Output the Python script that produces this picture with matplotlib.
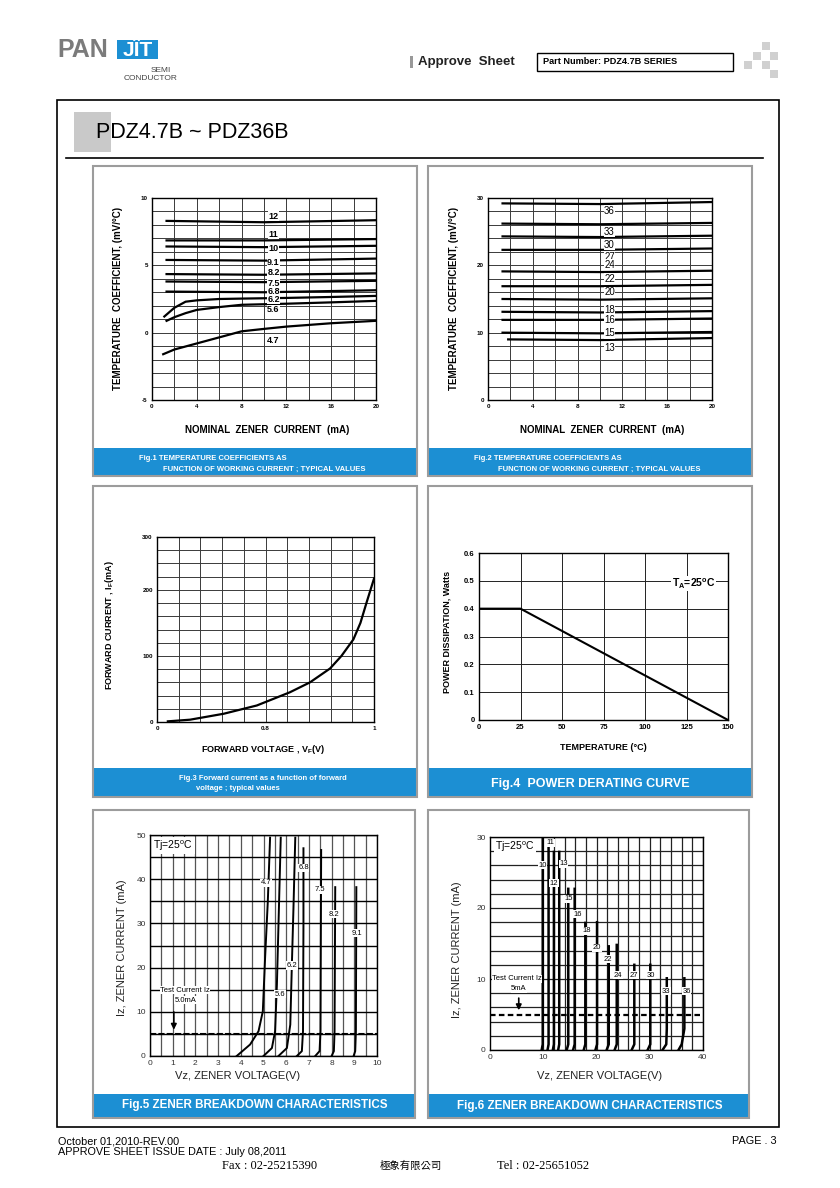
import numpy as np
import matplotlib.pyplot as plt
from matplotlib.patches import Rectangle

plt.rcParams['font.family'] = ['Liberation Sans', 'DejaVu Sans']
plt.rcParams['mathtext.fontset'] = 'custom'
plt.rcParams['mathtext.rm'] = 'Liberation Sans'
plt.rcParams['mathtext.bf'] = 'Liberation Sans:bold'
plt.rcParams['mathtext.default'] = 'regular'

NARROW = ['Liberation Sans Narrow', 'Liberation Sans', 'DejaVu Sans']
BLUE = '#1c8fd3'
W, H = 840, 1188

# ---- Fig.1 temperature coefficient, lower voltages (mV/C vs mA)
tc1_i = [1.3, 10, 20]
tc1_names = ['12', '11', '10', '9.1', '8.2', '7.5', '6.8']
tc1_start = [8.3, 6.85, 6.4, 5.4, 4.35, 3.8, 3.05]
tc1_mid = [8.2, 6.85, 6.35, 5.35, 4.3, 3.75, 3.0]
tc1_end = [8.35, 6.95, 6.45, 5.5, 4.4, 3.85, 3.15]
tc1_label_y = [8.64, 7.32, 6.23, 5.24, 4.5, 3.68, 3.06]
tc1_62_i = [1.1, 2, 3, 4, 6, 8, 12, 16, 20]
tc1_62 = [1.2, 1.85, 2.3, 2.4, 2.5, 2.53, 2.58, 2.65, 2.73]
tc1_56_i = [1.3, 2, 3, 4, 6, 8, 12, 16, 20]
tc1_56 = [0.88, 1.15, 1.45, 1.69, 1.9, 2.07, 2.15, 2.25, 2.36]
tc1_47_i = [1.0, 2, 4, 6, 8, 10, 12, 16, 20]
tc1_47 = [-1.6, -1.25, -0.8, -0.35, 0.1, 0.28, 0.45, 0.7, 0.88]
tc1_curve_names = ['6.2', '5.6', '4.7']
tc1_curve_label_y = [2.5, 1.69, -0.61]

# ---- Fig.2 temperature coefficient, higher voltages
tc2_names = ['36', '33', '30', '27', '24', '22', '20', '18', '16', '15', '13']
tc2_from = [1.3, 1.3, 1.3, 1.3, 1.3, 1.3, 1.3, 1.3, 1.3, 1.3, 1.8]
tc2_start = [29.2, 26.2, 24.3, 22.3, 19.1, 16.9, 15.0, 13.1, 11.9, 10.0, 9.0]
tc2_mid = [29.1, 26.1, 24.2, 22.3, 19.0, 16.9, 14.9, 13.0, 11.9, 9.9, 8.9]
tc2_end = [29.4, 26.3, 24.4, 22.5, 19.2, 17.1, 15.1, 13.2, 12.1, 10.1, 9.2]
tc2_label_y = [28.1, 25.0, 23.05, 21.3, 20.1, 18.0, 16.0, 13.3, 11.9, 9.9, 7.7]

# ---- Fig.3 forward characteristic
vf = [0.62, 0.661, 0.723, 0.784, 0.845, 0.882, 0.919, 0.94, 0.962, 0.975, 0.986, 1.0]
i_f = [1, 3.5, 12.5, 25, 45, 60, 81, 100, 125, 150, 180, 217]

# ---- Fig.4 power derating
temp = [0, 25, 150]
pd = [0.4, 0.4, 0.0]

# ---- Fig.5 zener breakdown 4.7 .. 9.1 V
z5_names = ['4.7', '5.6', '6.2', '6.8', '7.5', '8.2', '9.1']
z5_v = [[3.82, 4.41, 4.78, 4.97, 5.07, 5.19, 5.29],
        [5.0, 5.37, 5.51, 5.59, 5.66, 5.76],
        [5.66, 6.03, 6.18, 6.25, 6.32, 6.4],
        [6.47, 6.69, 6.74, 6.76, 6.76],
        [7.28, 7.47, 7.51, 7.54],
        [8.0, 8.1, 8.13, 8.16],
        [8.97, 9.04, 9.07, 9.09]]
z5_i = [[0, 2.6, 5.6, 10.1, 22.2, 35, 49.4],
        [0, 1.8, 5.6, 16.1, 29.7, 49.4],
        [0, 1.8, 7.1, 20.7, 33.5, 49.4],
        [0, 1.1, 5.6, 29.7, 47],
        [0, 1.1, 5.6, 46.6],
        [0, 1.1, 5.6, 38.2],
        [0, 1.1, 5.6, 38.2]]
z5_label_v = [5.12, 5.74, 6.25, 6.76, 7.47, 8.09, 9.12]
z5_label_i = [39.2, 14.0, 20.5, 42.6, 37.6, 32.1, 27.8]

# ---- Fig.6 zener breakdown 10 .. 36 V
z6_names = ['10', '11', '12', '13', '15', '16', '18', '20', '22', '24', '27', '30', '33', '36']
z6_foot = [9.7, 10.8, 11.8, 12.8, 14.4, 15.6, 17.6, 19.8, 21.9, 23.4, 26.6, 29.6, 32.4, 35.4]
z6_knee = [9.9, 11.0, 12.0, 13.0, 14.7, 15.9, 17.9, 20.1, 22.3, 23.8, 27.1, 30.1, 33.1, 36.0]
z6_vz = [9.9, 11.0, 12.0, 13.0, 14.7, 15.9, 17.9, 20.1, 22.3, 23.8, 27.1, 30.1, 33.2, 36.5]
z6_top = [30, 29.5, 27.9, 27.9, 22.7, 22.7, 17.9, 18.0, 14.6, 14.8, 12.0, 12.0, 10.1, 10.1]
z6_label_v = [9.85, 11.3, 12.0, 13.8, 14.7, 16.5, 18.1, 20.1, 22.1, 24.0, 27.0, 30.2, 33.0, 36.9]
z6_label_i = [26.0, 29.2, 23.5, 26.2, 21.3, 19.1, 16.8, 14.4, 12.8, 10.5, 10.5, 10.5, 8.3, 8.3]

fig = plt.figure(figsize=(8.4, 11.88), dpi=100)


def fx(x):
    return x / W


def fy(y):
    return 1 - y / H


def box(x0, y0, x1, y1, **kw):
    fig.add_artist(Rectangle((fx(x0), fy(y1)), (x1 - x0) / W, (y1 - y0) / H,
                             transform=fig.transFigure, **kw))


def text(x, y, s, **kw):
    kw.setdefault('va', 'center')
    fig.text(fx(x), fy(y), s, **kw)


def axes(x0, y0, x1, y1):
    ax = fig.add_axes([fx(x0), fy(y1), (x1 - x0) / W, (y1 - y0) / H])
    ax.tick_params(which='both', length=0, pad=3)
    for s in ax.spines.values():
        s.set_linewidth(1.0)
    ax.set_axisbelow(True)
    return ax


# ---------------- header
text(57, 50, 'PAN', fontsize=18, fontweight='bold', color='#7b7b7b')
box(117, 40, 158, 59, facecolor=BLUE, edgecolor='none')
text(137.5, 50, 'JÏT', fontsize=15, fontweight='bold', color='white', ha='center')
text(171, 71, 'SEMI', fontsize=6, color='#444', ha='right')
text(178, 79, 'CONDUCTOR', fontsize=6, color='#444', ha='right')
box(410, 56, 413, 68, facecolor='#999999', edgecolor='none')
text(418, 62, 'Approve  Sheet', fontsize=9.5, fontweight='bold', color='#222')
box(537, 53, 733, 71, facecolor='white', edgecolor='black', lw=1)
text(543, 62, 'Part Number: PDZ4.7B SERIES', fontsize=6.6, fontweight='bold', family=NARROW)
for sx, sy in [(762, 42), (753, 52), (770, 52), (744, 61), (762, 61), (770, 70)]:
    box(sx, sy, sx + 8, sy + 8, facecolor='#d0d0d0', edgecolor='none')

box(57, 100, 779, 1127, facecolor='none', edgecolor='black', lw=1.2)
box(74, 112, 111, 152, facecolor='#c9c9c9', edgecolor='none')
text(96, 133, 'PDZ4.7B ~ PDZ36B', fontsize=15.5)
fig.add_artist(plt.Line2D([fx(66), fx(763)], [fy(158), fy(158)],
                          transform=fig.transFigure, color='black', lw=1.2))

# ---------------- panels
panels = [(93, 166, 417, 476, 448), (428, 166, 752, 476, 448),
          (93, 486, 417, 797, 768), (428, 486, 752, 797, 768),
          (93, 810, 415, 1118, 1094), (428, 810, 749, 1118, 1094)]
for x0, y0, x1, y1, yb in panels:
    box(x0, yb, x1, y1, facecolor=BLUE, edgecolor='none')
    box(x0, y0, x1, y1, facecolor='none', edgecolor='#9c9c9c', lw=1.5)

# ---------------- Fig.1
ax = axes(152, 198, 376, 400)
ax.set_xlim(0, 20)
ax.set_ylim(-5, 10)
ax.set_xticks([0, 4, 8, 12, 16, 20], ['0', '4', '8', '12', '16', '20'], fontsize=4.5, fontweight='bold')
ax.set_yticks([-5, 0, 5, 10], ['-5', '0', '5', '10'], fontsize=4.5, fontweight='bold')
ax.set_xticks(np.arange(0, 21, 2), minor=True)
ax.set_yticks(np.arange(-5, 11, 1), minor=True)
ax.grid(which='both', color='#3a3a3a', lw=0.7)
for k, name in enumerate(tc1_names):
    ax.plot(tc1_i, [tc1_start[k], tc1_mid[k], tc1_end[k]], color='black', lw=1.6)
    ax.text(10.85, tc1_label_y[k], name, fontsize=6.5, fontweight='bold', ha='center', va='center',
            bbox=dict(facecolor='white', edgecolor='none', pad=0.3))
for xs, ys, name, ly in zip([tc1_62_i, tc1_56_i, tc1_47_i], [tc1_62, tc1_56, tc1_47],
                            tc1_curve_names, tc1_curve_label_y):
    ax.plot(xs, ys, color='black', lw=1.6)
    ax.text(10.85, ly, name, fontsize=6.5, fontweight='bold', ha='center', va='center',
            bbox=dict(facecolor='white', edgecolor='none', pad=0.3))
text(118, 298, 'TEMPERATURE  COEFFICIENT, (mV/°C)', fontsize=7, fontweight='bold',
     rotation=90, ha='center')
text(267, 430, 'NOMINAL  ZENER  CURRENT  (mA)', fontsize=7, fontweight='bold', ha='center')
text(139, 459, 'Fig.1 TEMPERATURE COEFFICIENTS AS', fontsize=5.5, fontweight='bold', color='white')
text(163, 469, 'FUNCTION OF WORKING CURRENT ; TYPICAL VALUES', fontsize=5.5, fontweight='bold', color='white')

# ---------------- Fig.2
ax = axes(488, 198, 712, 400)
ax.set_xlim(0, 20)
ax.set_ylim(0, 30)
ax.set_xticks([0, 4, 8, 12, 16, 20], ['0', '4', '8', '12', '16', '20'], fontsize=4.5, fontweight='bold')
ax.set_yticks([0, 10, 20, 30], ['0', '10', '20', '30'], fontsize=4.5, fontweight='bold')
ax.set_xticks(np.arange(0, 21, 2), minor=True)
ax.set_yticks(np.arange(0, 31, 2), minor=True)
ax.grid(which='both', color='#3a3a3a', lw=0.7)
for k, name in enumerate(tc2_names):
    ax.plot([tc2_from[k], 10, 20], [tc2_start[k], tc2_mid[k], tc2_end[k]], color='black', lw=1.6)
    ax.text(10.85, tc2_label_y[k], name, fontsize=7, ha='center', va='center',
            bbox=dict(facecolor='white', edgecolor='none', pad=0.3))
text(454, 298, 'TEMPERATURE  COEFFICIENT, (mV/°C)', fontsize=7, fontweight='bold',
     rotation=90, ha='center')
text(602, 430, 'NOMINAL  ZENER  CURRENT  (mA)', fontsize=7, fontweight='bold', ha='center')
text(474, 459, 'Fig.2 TEMPERATURE COEFFICIENTS AS', fontsize=5.5, fontweight='bold', color='white')
text(498, 469, 'FUNCTION OF WORKING CURRENT ; TYPICAL VALUES', fontsize=5.5, fontweight='bold', color='white')

# ---------------- Fig.3
ax = axes(157, 537, 374, 722)
ax.set_xlim(0.6, 1.0)
ax.set_ylim(0, 280)
ax.set_xticks([0.6, 0.8, 1.0], ['0', '0.8', '1'], fontsize=4.5, fontweight='bold')
ax.set_yticks([0, 100, 200, 280], ['0', '100', '200', '300'], fontsize=4.5, fontweight='bold')
ax.set_xticks(np.linspace(0.6, 1.0, 11), minor=True)
ax.set_yticks(np.arange(0, 281, 20), minor=True)
ax.grid(which='both', color='#3a3a3a', lw=0.7)
ax.plot(vf, i_f, color='black', lw=1.6)
text(110, 625, 'FORWARD CURRENT , I$_F$(mA)', fontsize=6.5, fontweight='bold', rotation=90, ha='center')
text(263, 750, 'FORWARD VOLTAGE , V$_F$(V)', fontsize=6.5, fontweight='bold', ha='center')
text(263, 779, 'Fig.3 Forward current as a function of forward', fontsize=5.5, fontweight='bold',
     color='white', ha='center')
text(196, 789, 'voltage ; typical values', fontsize=5.5, fontweight='bold', color='white')

# ---------------- Fig.4
ax = axes(479, 553, 728, 720)
ax.set_xlim(0, 150)
ax.set_ylim(0, 0.6)
ax.set_xticks([0, 25, 50, 75, 100, 125, 150], ['0', '25', '50', '75', '100', '125', '150'],
              fontsize=5.5, fontweight='bold')
ax.set_yticks([0, 0.1, 0.2, 0.3, 0.4, 0.5, 0.6], ['0', '0.1', '0.2', '0.3', '0.4', '0.5', '0.6'],
              fontsize=5.5, fontweight='bold')
ax.grid(color='#222222', lw=0.7)
ax.plot(temp, pd, color='black', lw=1.5)
ax.text(116, 0.49, 'T$_A$=25$^o$C', fontsize=7.5, fontweight='bold', va='center',
        bbox=dict(facecolor='white', edgecolor='none', pad=0.5))
text(447, 632, 'POWER DISSIPATION, Watts', fontsize=6.5, fontweight='bold', rotation=90, ha='center')
text(603, 747, 'TEMPERATURE (°C)', fontsize=6.5, fontweight='bold', ha='center')
text(590, 784, 'Fig.4  POWER DERATING CURVE', fontsize=9, fontweight='bold', color='white', ha='center')

# ---------------- Fig.5
ax = axes(150, 835, 377, 1056)
ax.set_xlim(0, 10)
ax.set_ylim(0, 50)
ax.set_xticks(range(11), [str(v) for v in range(11)], fontsize=6, color='#333')
ax.set_yticks(range(0, 51, 10), [str(v) for v in range(0, 51, 10)], fontsize=6, color='#333')
ax.set_xticks(np.arange(0, 10.1, 0.5), minor=True)
ax.set_yticks(np.arange(0, 51, 5), minor=True)
ax.grid(which='both', axis='x', color='#555555', lw=0.9)
ax.grid(which='both', axis='y', color='black', lw=1.0)
ax.plot([0, 10], [5, 5], color='black', lw=1.5, dashes=(3, 1))
for v, i, name, lv, li in zip(z5_v, z5_i, z5_names, z5_label_v, z5_label_i):
    ax.plot(v, i, color='black', lw=1.4)
    ax.text(lv, li, name, fontsize=5.5, ha='center', va='center', family=NARROW,
            bbox=dict(facecolor='white', edgecolor='none', pad=0.5))
ax.text(0.15, 47.6, 'Tj=25$^o$C', fontsize=7.5, va='center',
        bbox=dict(facecolor='white', edgecolor='none', pad=1.2))
ax.text(1.55, 14.9, 'Test Current Iz', fontsize=5.5, ha='center', va='center', family=NARROW,
        bbox=dict(facecolor='white', edgecolor='none', pad=0.3))
ax.text(1.55, 12.6, '5.0mA', fontsize=5.5, ha='center', va='center', family=NARROW,
        bbox=dict(facecolor='white', edgecolor='none', pad=0.3))
ax.annotate('', xy=(1.05, 5.3), xytext=(1.05, 10.6),
            arrowprops=dict(arrowstyle='-|>', color='black', lw=1.2, mutation_scale=8))
text(122, 948, 'Iz, ZENER CURRENT (mA)', fontsize=8, rotation=90, ha='center', family=NARROW, color='#222')
text(238, 1076, 'Vz, ZENER VOLTAGE(V)', fontsize=8, ha='center', family=NARROW, color='#222')
text(255, 1105, 'Fig.5 ZENER BREAKDOWN CHARACTERISTICS', fontsize=8.4, fontweight='bold',
     color='white', ha='center', family=NARROW)

# ---------------- Fig.6
ax = axes(490, 837, 703, 1050)
ax.set_xlim(0, 40)
ax.set_ylim(0, 30)
ax.set_xticks([0, 10, 20, 30, 40], ['0', '10', '20', '30', '40'], fontsize=6, color='#333')
ax.set_yticks([0, 10, 20, 30], ['0', '10', '20', '30'], fontsize=6, color='#333')
ax.set_yticks(np.arange(0, 31, 2), minor=True)
ax.grid(which='both', axis='y', color='#222222', lw=0.9)
ax.vlines(np.arange(10, 41, 2), 0, 30, color='#222222', lw=0.9, zorder=0.5)
ax.plot([0, 40], [5, 5], color='black', lw=1.6, dashes=(2.5, 1.5))
for k, name in enumerate(z6_names):
    ax.plot([z6_foot[k], z6_knee[k], z6_vz[k], z6_vz[k]], [0, 0.8, 3, z6_top[k]], color='black', lw=1.8)
    ax.text(z6_label_v[k], z6_label_i[k], name, fontsize=5.5, ha='center', va='center', family=NARROW,
            bbox=dict(facecolor='white', edgecolor='none', pad=0.4))
ax.text(1.0, 28.6, 'Tj=25$^o$C', fontsize=7.5, va='center',
        bbox=dict(facecolor='white', edgecolor='none', pad=0.8))
ax.text(5.1, 10.0, 'Test Current Iz', fontsize=5.5, ha='center', va='center', family=NARROW,
        bbox=dict(facecolor='white', edgecolor='none', pad=0.3))
ax.text(5.4, 8.6, '5mA', fontsize=5.5, ha='center', va='center', family=NARROW,
        bbox=dict(facecolor='white', edgecolor='none', pad=0.3))
ax.annotate('', xy=(5.4, 5.2), xytext=(5.4, 7.7),
            arrowprops=dict(arrowstyle='-|>', color='black', lw=1.2, mutation_scale=8))
text(457, 950, 'Iz, ZENER CURRENT (mA)', fontsize=8, rotation=90, ha='center', family=NARROW, color='#222')
text(600, 1076, 'Vz, ZENER VOLTAGE(V)', fontsize=8, ha='center', family=NARROW, color='#222')
text(590, 1106, 'Fig.6 ZENER BREAKDOWN CHARACTERISTICS', fontsize=8.4, fontweight='bold',
     color='white', ha='center', family=NARROW)

# ---------------- footer
text(58, 1141, 'October 01,2010-REV.00', fontsize=7.8, family=NARROW)
text(58, 1152, 'APPROVE SHEET ISSUE DATE : July 08,2011', fontsize=7.8, family=NARROW)
text(777, 1141, 'PAGE . 3', fontsize=7.8, ha='right', family=NARROW)
text(222, 1166, 'Fax : 02-25215390', fontsize=9, family=['Liberation Serif', 'DejaVu Serif'])
text(380, 1166, '極象有限公司', fontsize=7.5, family=['Noto Sans CJK TC', 'DejaVu Sans'])
text(497, 1166, 'Tel : 02-25651052', fontsize=9, family=['Liberation Serif', 'DejaVu Serif'])

fig.savefig('out.png', dpi=100)
